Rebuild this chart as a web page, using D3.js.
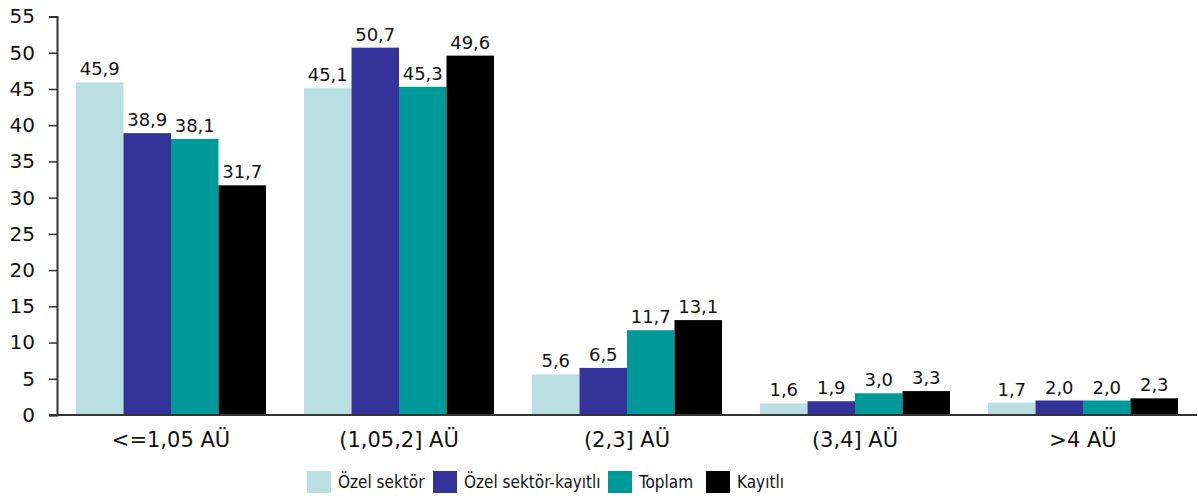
<!DOCTYPE html>
<html>
<head>
<meta charset="utf-8">
<script src="https://cdn.jsdelivr.net/npm/d3@7"></script>
<style>
  html, body { margin: 0; padding: 0; background: #fff; }
  svg { display: block; font-family: "DejaVu Sans", Verdana, sans-serif; }
</style>
</head>
<body>
<svg id="chart" width="1198" height="499"></svg>
<script>
// Categories (education level bands) and series
const categories = ["<=1,05 AÜ", "(1,05,2] AÜ", "(2,3] AÜ", "(3,4] AÜ", ">4 AÜ"];
const seriesNames = ["Özel sektör", "Özel sektör-kayıtlı", "Toplam", "Kayıtlı"];
const ozelSektor        = [45.9, 45.1, 5.6, 1.6, 1.7];
const ozelSektorKayitli = [38.9, 50.7, 6.5, 1.9, 2.0];
const toplam            = [38.1, 45.3, 11.7, 3.0, 2.0];
const kayitli           = [31.7, 49.6, 13.1, 3.3, 2.3];
const yTicks = [0, 5, 10, 15, 20, 25, 30, 35, 40, 45, 50, 55];
const colors = ["#b9dfe3", "#333399", "#009999", "#000000"];

const seriesValues = [ozelSektor, ozelSektorKayitli, toplam, kayitli];

const svg = d3.select("#chart");
const plotLeft = 57, plotRight = 1197, plotTop = 16.5, plotBottom = 415;
const mainFont = "DejaVu Sans, Verdana, sans-serif";

const x0 = d3.scaleBand().domain(categories).range([plotLeft, plotRight])
  .paddingInner(0.1667).paddingOuter(0.0833);
const x1 = d3.scaleBand().domain(seriesNames).range([0, x0.bandwidth()]);
const y = d3.scaleLinear().domain([0, 55]).range([plotBottom, plotTop]);

const fmt = v => d3.format(".1f")(v).replace(".", ",");

// Bars
const groups = svg.append("g").selectAll("g")
  .data(categories)
  .join("g")
  .attr("transform", d => `translate(${x0(d)},0)`);

const cells = (c, i) => seriesNames.map((s, j) => ({ s, v: seriesValues[j][i], j }));

groups.selectAll("rect")
  .data(cells)
  .join("rect")
  .attr("x", d => x1(d.s))
  .attr("y", d => y(d.v))
  .attr("width", x1.bandwidth())
  .attr("height", d => y(0) - y(d.v))
  .attr("fill", d => colors[d.j]);

// Value labels
groups.selectAll("text")
  .data(cells)
  .join("text")
  .attr("x", d => x1(d.s) + x1.bandwidth() / 2)
  .attr("y", d => y(d.v) - 7)
  .attr("text-anchor", "middle")
  .attr("font-size", 18)
  .attr("fill", "#111")
  .text(d => fmt(d.v));

// Y axis
const yAxis = svg.append("g")
  .attr("transform", `translate(${plotLeft},0)`)
  .call(d3.axisLeft(y).tickValues(yTicks).tickSize(8).tickPadding(14).tickFormat(d => d));
yAxis.select(".domain").attr("stroke", "#333").attr("stroke-width", 2);
yAxis.selectAll(".tick line").attr("stroke", "#333").attr("stroke-width", 1.5);
yAxis.selectAll(".tick text").attr("font-size", 20).attr("fill", "#111")
  .attr("font-family", mainFont);

// X axis
const xAxis = svg.append("g")
  .attr("transform", `translate(0,${plotBottom})`)
  .call(d3.axisBottom(x0).tickSize(0).tickPadding(17));
xAxis.select(".domain").remove();
xAxis.append("line")
  .attr("x1", plotLeft - 8).attr("x2", plotRight)
  .attr("stroke", "#333").attr("stroke-width", 2);
xAxis.selectAll(".tick text").attr("font-size", 21).attr("fill", "#111")
  .attr("font-family", mainFont)
  .attr("dy", "0.71em");

// Legend
const legendX = [307, 433, 608, 706];
const legend = svg.append("g").selectAll("g")
  .data(seriesNames)
  .join("g")
  .attr("transform", (d, i) => `translate(${legendX[i]},471)`);
legend.append("rect")
  .attr("width", 24).attr("height", 22)
  .attr("fill", (d, i) => colors[i]);
legend.append("text")
  .attr("x", 31).attr("y", 17)
  .attr("font-size", 17)
  .attr("font-family", "DejaVu Sans Condensed, DejaVu Sans, sans-serif")
  .attr("fill", "#111")
  .text(d => d);
</script>
</body>
</html>
